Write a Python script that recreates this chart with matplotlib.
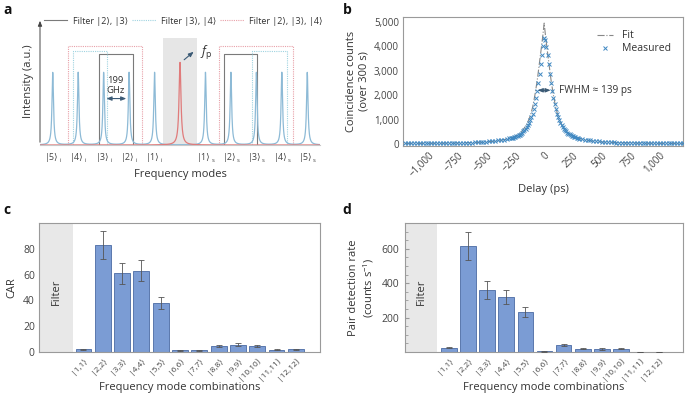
import numpy as np
import matplotlib
matplotlib.use('Agg')
import matplotlib.pyplot as plt
from matplotlib.ticker import FuncFormatter, MultipleLocator

plt.rcParams['font.family'] = ['Open Sans', 'DejaVu Sans']
plt.rcParams['mathtext.fontset'] = 'custom'
plt.rcParams['mathtext.rm'] = 'Open Sans'
plt.rcParams['mathtext.it'] = 'Open Sans:italic'
plt.rcParams['text.color'] = '#333333'
plt.rcParams['axes.labelcolor'] = '#333333'
plt.rcParams['xtick.color'] = '#444444'
plt.rcParams['ytick.color'] = '#444444'

# ---- panel a: schematic spectrum ----
mode_pos = [-5, -4, -3, -2, -1, 1, 2, 3, 4, 5]
mode_kets = ['|5⟩', '|4⟩', '|3⟩', '|2⟩', '|1⟩', '|1⟩', '|2⟩', '|3⟩', '|4⟩', '|5⟩']
mode_subs = ['i', 'i', 'i', 'i', 'i', 's', 's', 's', 's', 's']
mode_height = 1.0
mode_width = 0.035
pump_pos = 0.0
pump_height = 1.14
pump_width = 0.045
# filter windows (idler span, signal span, top)
filt_23 = [(-3.2, -1.84), (1.73, 3.02), 1.26]
filt_34 = [(-4.2, -2.86), (2.82, 4.2), 1.30]
filt_234 = [(-4.4, -1.5), (1.53, 4.43), 1.37]

# ---- panel b: coincidence histogram ----
delay_c = list(range(-300, 301, 10))
counts_c = [230, 236, 255, 262, 280, 300, 318, 335, 368, 390,
            428, 470, 515, 560, 625, 700, 770, 860, 980, 1090,
            1240, 1420, 1620, 1880, 2170, 2500, 2870, 3280, 3660, 4010,
            4330,
            4250, 3990, 3640, 3260, 2860, 2490, 2170, 1880, 1640, 1420,
            1250, 1100, 975, 865, 775, 700, 625, 565, 520, 470,
            430, 400, 365, 340, 315, 292, 272, 255, 238, 224]
delay_l = list(range(-1200, -300, 25))
counts_l = [28, 25, 30, 27, 26, 30, 29, 31, 28, 33, 32, 30,
            35, 34, 37, 38, 40, 42, 45, 47, 50, 55, 58, 62,
            68, 74, 80, 88, 97, 108, 118, 132, 148, 165, 185, 208]
delay_r = list(range(325, 1201, 25))
counts_r = [205, 182, 162, 146, 130, 118, 106, 96, 88, 80, 73, 67,
            62, 57, 53, 49, 46, 44, 41, 39, 37, 35, 33, 32,
            31, 30, 29, 29, 27, 28, 26, 27, 25, 26, 24, 25]
fit_delay = [-1200, -1000, -800, -600, -500, -400, -300, -250, -200, -150, -120, -100,
             -80, -60, -40, -20, -10, 0, 10, 20, 40, 60, 80, 100, 120, 150, 200,
             250, 300, 400, 500, 600, 800, 1000, 1200]
fit_counts = [25, 30, 40, 60, 85, 130, 230, 320, 470, 800, 1150, 1500,
              2000, 2600, 3350, 4100, 4500, 4950, 4500, 4100, 3350, 2600, 2000, 1500, 1150, 800, 470,
              320, 230, 130, 85, 60, 40, 30, 25]

# ---- panels c, d: bar charts ----
combos = ['|1,1⟩', '|2,2⟩', '|3,3⟩', '|4,4⟩', '|5,5⟩', '|6,6⟩', '|7,7⟩',
          '|8,8⟩', '|9,9⟩', '|10,10⟩', '|11,11⟩', '|12,12⟩']
car = [2.2, 83, 61, 63, 38, 1.3, 1.2, 4.8, 5.8, 5.0, 1.8, 2.0]
car_err = [0.5, 11, 8, 8.3, 5, 0.4, 0.4, 0.8, 0.8, 0.8, 0.4, 0.5]
rate = [25, 615, 360, 320, 232, 3, 40, 20, 17, 20, 0, 0]
rate_err = [4, 80, 50, 43, 29, 3, 5, 4, 4, 4, 0, 0]

blue = '#8dbad6'
pink = '#e07b7b'
gray_box = '#7a7a7a'
lblue_box = '#9fd3e0'
pink_box = '#e8a0a8'
bar_col = '#7b9cd4'
bar_edge = '#5a78ad'
spine_col = '#9a9a9a'

fig = plt.figure(figsize=(6.85, 4.0), dpi=100)

# ================= a =================
axa = fig.add_axes([40 / 685, 1 - 145 / 400, 280 / 685, 127 / 400])
x = np.linspace(-5.5, 5.5, 3000)
spec = np.zeros_like(x)
for p in mode_pos:
    spec += mode_height * mode_width ** 2 / ((x - p) ** 2 + mode_width ** 2)
pump = pump_height * pump_width ** 2 / ((x - pump_pos) ** 2 + pump_width ** 2)
axa.axvspan(-0.65, 0.65, ymax=1.47 / 1.75, color='#e6e6e6', lw=0, zorder=0)
axa.plot(x, spec, color=blue, lw=0.9, zorder=3)
axa.plot(x, pump, color=pink, lw=0.9, zorder=3)

def draw_filter(f, col, ls, label):
    top = f[2]
    for i, (x0, x1) in enumerate(f[:2]):
        axa.plot([x0, x0, x1, x1], [0, top, top, 0], color=col, lw=0.8, ls=ls,
                 label=label if i == 0 else None, zorder=2)

draw_filter(filt_23, gray_box, '-', 'Filter |2⟩, |3⟩')
draw_filter(filt_34, lblue_box, (0, (1, 1)), 'Filter |3⟩, |4⟩')
draw_filter(filt_234, pink_box, (0, (1, 1)), 'Filter |2⟩, |3⟩, |4⟩')

axa.set_xlim(-5.5, 5.5)
axa.set_ylim(0, 1.75)
for s in ['top', 'right', 'left']:
    axa.spines[s].set_visible(False)
axa.spines['bottom'].set_color('#c8c8c8')
axa.annotate('', xy=(0, 1.0), xytext=(0, 0), xycoords='axes fraction',
             arrowprops=dict(arrowstyle='-|>,head_width=0.12,head_length=0.3',
                             color='#444444', lw=0.7))
axa.set_yticks([])
axa.set_xticks([])
for p, k, sb in zip(mode_pos, mode_kets, mode_subs):
    axa.annotate(k, xy=(p, 0), xycoords=('data', 'axes fraction'), xytext=(-1, -9),
                 textcoords='offset points', ha='center', va='center', fontsize=6.5,
                 color='#444444')
    axa.annotate(sb, xy=(p, 0), xycoords=('data', 'axes fraction'), xytext=(5.2, -10.8),
                 textcoords='offset points', ha='center', va='center', fontsize=4.3,
                 color='#444444')
axa.set_ylabel('Intensity (a.u.)', fontsize=8, labelpad=4)
axa.set_xlabel('Frequency modes', fontsize=8, labelpad=17)
axa.legend(loc='upper center', bbox_to_anchor=(0.512, 1.075), ncol=3, frameon=False,
           fontsize=6.5, handlelength=2.6, columnspacing=0.45, handletextpad=0.6)
axa.annotate('', xy=(-2.0, 0.64), xytext=(-3.0, 0.64),
             arrowprops=dict(arrowstyle='<|-|>,head_width=0.12,head_length=0.3',
                             color='#3b5a75', lw=0.8))
axa.text(-2.55, 0.82, '199\nGHz', ha='center', va='center', fontsize=6.8, linespacing=1.1)
axa.annotate('', xy=(0.62, 1.31), xytext=(0.08, 1.15),
             arrowprops=dict(arrowstyle='-|>,head_width=0.12,head_length=0.3',
                             color='#3b5a75', lw=0.8))
axa.text(0.78, 1.27, r'$f_\mathrm{p}$', fontsize=9, va='center')

# ================= b =================
axb = fig.add_axes([403 / 685, 1 - 146 / 400, 280 / 685, 129 / 400])
axb.plot(fit_delay, fit_counts, color='#888888', lw=0.8, ls='-.', label='Fit', zorder=2)
meas_d = delay_l + delay_c + delay_r
meas_c = counts_l + counts_c + counts_r
axb.plot(meas_d, meas_c, ls='none', marker='x', ms=3.0, mew=0.7, color='#3f88c2',
         label='Measured', zorder=3)
axb.set_xlim(-1220, 1200)
axb.set_ylim(-80, 5200)
axb.set_xticks(range(-1000, 1001, 250))
axb.set_yticks(range(0, 5001, 1000))
fmt = FuncFormatter(lambda v, p: f'{v:,.0f}'.replace('-', '\u2212'))
axb.xaxis.set_major_formatter(fmt)
axb.yaxis.set_major_formatter(fmt)
axb.tick_params(length=0, labelsize=7, pad=3)
for lab in axb.get_xticklabels():
    lab.set_rotation(45)
    lab.set_ha('right')
    lab.set_rotation_mode('anchor')
for s in axb.spines.values():
    s.set_color(spine_col)
    s.set_linewidth(0.8)
axb.set_xlabel('Delay (ps)', fontsize=8, labelpad=3)
axb.set_ylabel('Coincidence counts\n(over 300 s)', fontsize=8, labelpad=3)
axb.legend(loc='upper right', bbox_to_anchor=(0.99, 0.97), frameon=False, fontsize=7.5,
           handlelength=1.6, labelspacing=0.2, handletextpad=0.8)
axb.annotate('', xy=(80, 2200), xytext=(-80, 2200),
             arrowprops=dict(arrowstyle='<|-|>,head_width=0.12,head_length=0.3',
                             color='#3b5a75', lw=0.8))
axb.text(130, 2200, 'FWHM ≈ 139 ps', fontsize=7.2, va='center', ha='left')

# ================= c, d =================
def bar_panel(rect, vals, errs, ylim, filt_edge, ylabel):
    ax = fig.add_axes(rect)
    pos = np.arange(len(combos))
    ax.axvspan(-2.3, filt_edge, color='#e8e8e8', lw=0, zorder=0)
    ax.bar(pos, vals, width=0.82, color=bar_col, edgecolor=bar_edge, lw=0.7, zorder=2)
    ax.errorbar(pos, vals, yerr=errs, fmt='none', ecolor='#555555', elinewidth=0.6,
                capsize=2.5, capthick=0.6, zorder=3)
    ax.set_xlim(-2.3, 12.25)
    ax.set_ylim(*ylim)
    ax.set_xticks(pos)
    ax.set_xticklabels(combos, rotation=45, ha='right', rotation_mode='anchor', fontsize=6)
    ax.tick_params(axis='x', length=0, pad=3)
    ax.tick_params(axis='y', labelsize=7.5)
    for s in ax.spines.values():
        s.set_color(spine_col)
        s.set_linewidth(0.8)
    ax.text((-2.3 + filt_edge) / 2, (ylim[0] + ylim[1]) * 0.47, 'Filter', rotation=90,
            ha='center', va='center', fontsize=8)
    ax.set_xlabel('Frequency mode combinations', fontsize=8)
    ax.xaxis.set_label_coords(0.5, -0.235)
    ax.set_ylabel(ylabel, fontsize=8)
    return ax

axc = bar_panel([39 / 685, 1 - 352 / 400, 281 / 685, 129 / 400], car, car_err,
                (0, 100), -0.53, 'CAR')
axc.set_yticks(range(0, 81, 20))
axc.tick_params(axis='y', length=0, pad=3)

axd = bar_panel([405 / 685, 1 - 352 / 400, 278 / 685, 129 / 400], rate, rate_err,
                (0, 750), -0.62, 'Pair detection rate\n(counts s$^{-1}$)')
axd.set_yticks([200, 400, 600])
axd.yaxis.set_minor_locator(MultipleLocator(50))
axd.tick_params(axis='y', which='major', direction='in', length=3, color=spine_col, pad=4)
axd.tick_params(axis='y', which='minor', direction='in', length=2, color=spine_col)

# panel letters
for lx, ly, t in [(3, 3, 'a'), (343, 3, 'b'), (3, 203, 'c'), (342, 203, 'd')]:
    fig.text(lx / 685, 1 - ly / 400, t, fontsize=10, fontweight='bold', va='top',
             color='#111111')

fig.savefig('out.png', dpi=100)
